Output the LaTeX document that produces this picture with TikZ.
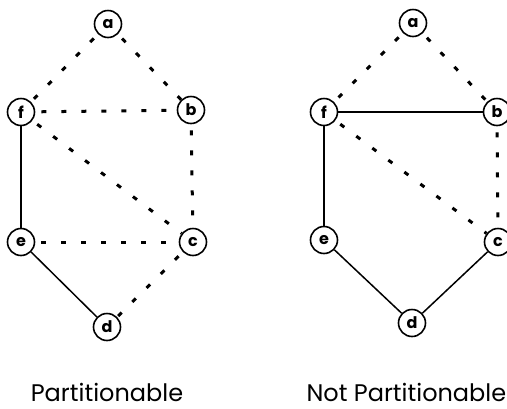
\documentclass[tikz,border=0pt]{standalone}
\usepackage{fontspec}
\setmainfont{Poppins}
\begin{document}
\begin{tikzpicture}[x=1pt,y=-1pt,
  vtx/.style={circle,draw,line width=1.6pt,minimum size=27pt,inner sep=0pt,font=\fontsize{16}{16}\selectfont\bfseries},
  solidedge/.style={line width=1.5pt},
  dashedge/.style={line width=3pt,dash pattern=on 5pt off 15pt,dash phase=-6pt},
  captext/.style={font=\fontsize{24}{24}\selectfont}]
\useasboundingbox (0,0) rectangle (507,408);
% left graph
\node[vtx] (La) at (108,24) {a};
\node[vtx] (Lf) at (21,112) {f};
\node[vtx] (Lb) at (191,110) {b};
\node[vtx] (Le) at (21,242) {e};
\node[vtx] (Lc) at (193,242) {c};
\node[vtx] (Ld) at (107,327) {d};
\draw[dashedge] (La) -- (Lf);
\draw[dashedge] (La) -- (Lb);
\draw[dashedge] (Lf) -- (Lb);
\draw[dashedge] (Lf) -- (Lc);
\draw[dashedge] (Lb) -- (Lc);
\draw[dashedge] (Le) -- (Lc);
\draw[dashedge] (Lc) -- (Ld);
\draw[solidedge] (Lf) -- (Le);
\draw[solidedge] (Le) -- (Ld);
% right graph
\node[vtx] (Ra) at (413,23) {a};
\node[vtx] (Rf) at (324,112) {f};
\node[vtx] (Rb) at (497,112) {b};
\node[vtx] (Re) at (324,240) {e};
\node[vtx] (Rc) at (498,242) {c};
\node[vtx] (Rd) at (412,323) {d};
\draw[dashedge] (Ra) -- (Rf);
\draw[dashedge] (Ra) -- (Rb);
\draw[solidedge] (Rf) -- (Rb);
\draw[dashedge] (Rf) -- (Rc);
\draw[dashedge] (Rb) -- (Rc);
\draw[solidedge] (Rf) -- (Re);
\draw[solidedge] (Re) -- (Rd);
\draw[solidedge] (Rd) -- (Rc);
% captions
\node[captext] (L1) at (107,392) {Partitionable};
\node[captext,anchor=west] (L2) at (303,392) {Not Partitionable};
\end{tikzpicture}
\end{document}
